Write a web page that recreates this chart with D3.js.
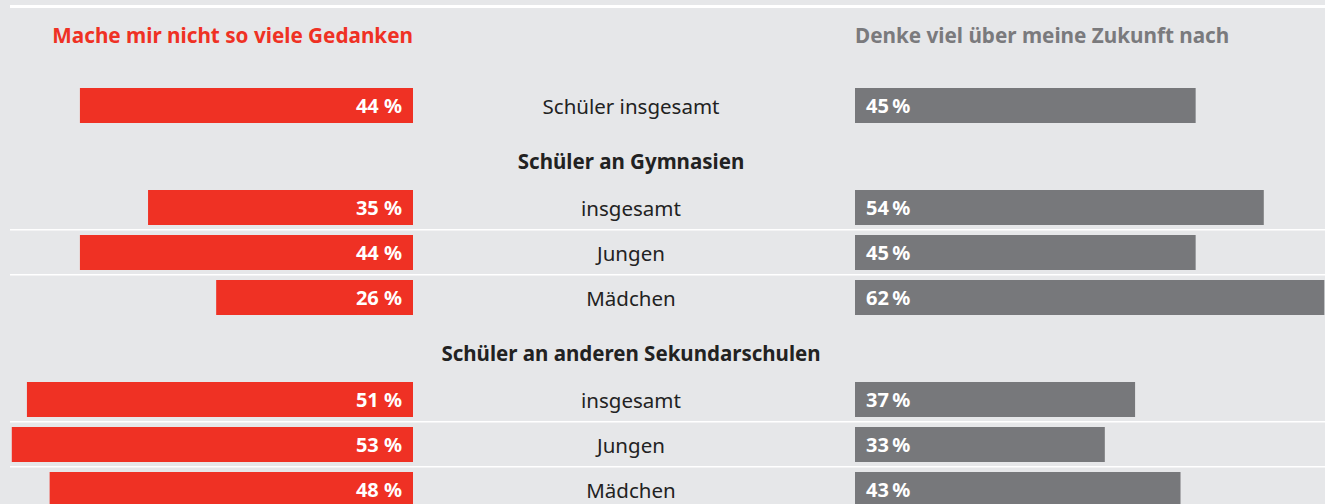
<!DOCTYPE html>
<html>
<head>
<meta charset="utf-8">
<script src="https://cdn.jsdelivr.net/npm/d3@7"></script>
<style>
  body { margin: 0; background: #e6e7e9; }
  svg { display: block; }
</style>
</head>
<body>
<div id="chart"></div>
<script>
// Zukunftsgedanken von Schülern
var seriesNames = ["Mache mir nicht so viele Gedanken", "Denke viel über meine Zukunft nach"];
var groupTitles = ["", "Schüler an Gymnasien", "Schüler an anderen Sekundarschulen"];
var rowLabels = ["Schüler insgesamt", "insgesamt", "Jungen", "Mädchen", "insgesamt", "Jungen", "Mädchen"];
var rowGroup = [0, 1, 1, 1, 2, 2, 2];
var notMuch = [44, 35, 44, 26, 51, 53, 48];
var thinkMuch = [45, 54, 45, 62, 37, 33, 43];

var width = 1325,
    height = 504,
    red = "#ef3124",
    grey = "#77787b",
    font = "'Noto Sans', sans-serif",
    leftEdge = 413,
    rightStart = 855,
    mid = 631,
    top0 = 88,
    step = 45,
    gap = 10,
    headerH = 57;

var svg = d3.select("#chart").append("svg")
    .attr("width", width)
    .attr("height", height)
    .style("font-family", font);

svg.append("rect").attr("width", width).attr("height", height).attr("fill", "#e6e7e9");

// top rule
svg.append("rect").attr("x", 10).attr("y", 5).attr("width", width - 10).attr("height", 3).attr("fill", "#fff");

var x = d3.scaleLinear().domain([0, 100]).range([0, 757]);

var y = d3.scaleBand()
    .domain(d3.range(rowLabels.length))
    .range([0, rowLabels.length * step - gap])
    .paddingInner(gap / step)
    .paddingOuter(0);

function rowTop(i) { return top0 + y(i) + rowGroup[i] * headerH; }

var rows = rowLabels.map(function(label, i) {
  return {i: i, label: label, group: rowGroup[i], left: notMuch[i], right: thinkMuch[i],
          first: i === 0 || rowGroup[i - 1] !== rowGroup[i]};
});

// series headers
svg.append("text")
    .attr("x", leftEdge).attr("y", 35)
    .attr("text-anchor", "end").attr("dominant-baseline", "central")
    .attr("fill", red).style("font-weight", "bold").style("font-size", "20.7px")
    .text(seriesNames[0]);

svg.append("text")
    .attr("x", rightStart).attr("y", 35)
    .attr("dominant-baseline", "central")
    .attr("fill", "#7a7a7d").style("font-weight", "bold").style("font-size", "20.7px")
    .text(seriesNames[1]);

// group titles
groupTitles.forEach(function(t, g) {
  if (!t) return;
  var firstRow = rowGroup.indexOf(g);
  svg.append("text")
      .attr("x", mid).attr("y", rowTop(firstRow) - 29)
      .attr("text-anchor", "middle").attr("dominant-baseline", "central")
      .attr("fill", "#222").style("font-weight", "bold").style("font-size", "20.5px")
      .text(t);
});

// separators between rows in a group
svg.selectAll(".sep")
    .data(rows.filter(function(d) { return !d.first; }))
  .enter().append("rect")
    .attr("class", "sep")
    .attr("x", 10).attr("width", width - 10)
    .attr("y", function(d) { return rowTop(d.i) - 6; })
    .attr("height", 1.5)
    .attr("fill", "#fff");

var row = svg.selectAll(".row")
    .data(rows)
  .enter().append("g")
    .attr("class", "row")
    .attr("transform", function(d) { return "translate(0," + rowTop(d.i) + ")"; });

row.append("rect")
    .attr("x", function(d) { return leftEdge - x(d.left); })
    .attr("width", function(d) { return x(d.left); })
    .attr("height", y.bandwidth())
    .attr("fill", red);

row.append("rect")
    .attr("x", rightStart)
    .attr("width", function(d) { return x(d.right); })
    .attr("height", y.bandwidth())
    .attr("fill", grey);

row.append("text")
    .attr("x", leftEdge - 11).attr("y", y.bandwidth() / 2)
    .attr("text-anchor", "end").attr("dominant-baseline", "central")
    .attr("fill", "#fff").style("font-weight", "bold").style("font-size", "20px")
    .text(function(d) { return d.left + " %"; });

row.append("text")
    .attr("x", rightStart + 11).attr("y", y.bandwidth() / 2)
    .attr("dominant-baseline", "central")
    .attr("fill", "#fff").style("font-weight", "bold").style("font-size", "20px")
    .text(function(d) { return d.right + "\u2009%"; });

row.append("text")
    .attr("x", mid).attr("y", y.bandwidth() / 2)
    .attr("text-anchor", "middle").attr("dominant-baseline", "central")
    .attr("fill", "#222").style("font-size", "20.5px")
    .text(function(d) { return d.label; });
</script>
</body>
</html>
